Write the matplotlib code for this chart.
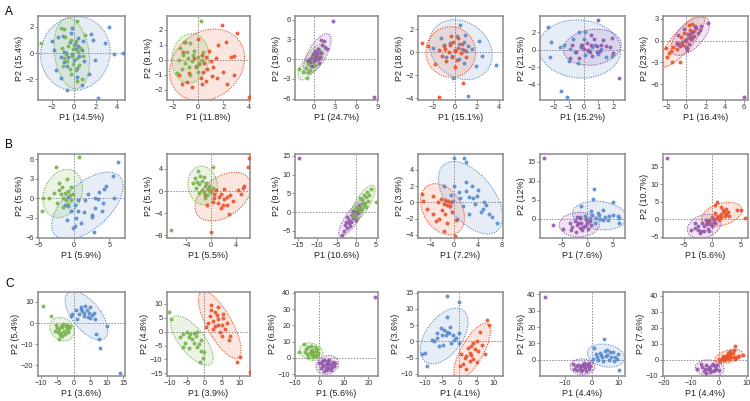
import matplotlib
matplotlib.use("Agg")
import matplotlib.pyplot as plt
from matplotlib.patches import Ellipse
import numpy as np

plt.rcParams['font.family'] = ['Liberation Sans', 'DejaVu Sans']

GREEN = '#78b24c'
BLUE = '#5a8bcc'
RED = '#e8532b'
PURPLE = '#9457ac'

# ---- row A ----
a1_blue = [(3.2, 2.0), (2.9, 0.75), (3.7, -0.1), (4.55, 0.0), (1.9, -0.55), (2.2, -3.4),
           (0.75, -2.45), (0.25, -1.8), (-0.6, -2.8), (1.55, 1.45), (-0.4, 0.8), (0.1, 0.7),
           (0.4, 0.5), (0.7, 0.2), (-0.7, 0.0), (-0.9, 0.1), (-0.5, -0.3), (0.0, -0.5),
           (-0.9, -0.7), (-0.6, -1.0), (0.3, -1.1), (0.5, -0.2), (0.2, 0.3), (-1.0, 1.3),
           (-0.3, 1.5), (0.8, 0.9), (-0.2, -0.1), (0.9, -0.6), (-1.2, -0.3), (0.4, 1.1),
           (-1.5, 1.2), (-1.6, -1.3), (1.4, -1.6), (1.8, 1.0), (-1.8, 0.2), (-0.2, 1.9),
           (-1.2, -1.9), (-2.0, 0.9)]
a1_green = [(-3.0, 0.75), (-1.2, 1.9), (0.25, 2.4), (1.0, 1.4), (-0.8, 1.2), (-0.3, 1.0),
            (0.2, 0.9), (-0.5, 0.5), (-0.1, 0.3), (0.4, 0.1), (-0.7, -0.1), (-0.2, -0.2),
            (0.3, -0.4), (-0.6, -0.6), (-0.1, -0.8), (0.5, -0.9), (-0.4, -1.2), (-0.9, -0.4),
            (0.0, 0.6), (-1.1, 0.4), (0.6, 0.4), (-0.3, -1.6), (0.2, -1.3), (-1.0, -1.0), (0.8, -0.2),
            (0.7, -2.0), (-0.9, 1.8), (0.3, -2.1)]

a2_red = [(1.9, 2.3), (3.1, 1.8), (2.2, 1.2), (2.6, 0.15), (2.8, 0.25), (1.2, -0.5), (1.5, -1.2),
          (1.1, -1.1), (0.3, -1.6), (-0.5, -1.8), (0.5, -0.2), (0.6, 0.2), (0.3, 0.3), (0.1, -0.3),
          (0.7, -0.6), (-0.2, -0.5), (0.4, -0.8), (1.0, -0.1), (-0.3, 0.1), (0.9, 0.6), (4.0, -2.5),
          (0.2, -1.2), (-0.7, -0.9), (1.4, 0.1), (0.6, -1.4), (-1.5, -1.0), (-1.2, 0.5),
          (-0.9, -1.5), (1.6, 1.0), (2.0, -0.8), (-1.0, 1.2), (2.3, -1.6), (2.8, -1.0),
          (-1.3, -1.6), (0.0, 1.4)]
a2_green = [(0.2, 2.6), (-1.1, 1.15), (-0.6, 1.1), (-1.4, 0.8), (-0.9, 0.5), (-0.3, 0.6),
            (-1.7, -0.9), (-1.5, 0.0), (-1.0, -0.2), (-0.5, -0.1), (0.0, 0.2), (0.3, 0.0),
            (-0.2, -0.4), (-0.7, -0.5), (-1.2, 0.3), (0.4, 0.5), (0.0, -0.8), (-1.3, -0.6),
            (-0.4, 0.3), (-0.8, 0.1), (0.1, -0.2), (-0.6, -1.0)]

a3_green = [(-1.0, -2.8), (-2.2, -1.5), (-1.6, -1.9), (-1.2, -1.3), (-0.8, -0.8), (-0.5, 0.0),
            (-0.2, -0.4), (0.2, 0.3), (0.5, 1.5), (0.0, 0.9), (-0.6, -1.6), (0.3, -0.2),
            (-1.0, -0.3), (0.6, 0.6), (0.1, -0.9), (-0.3, 0.5), (0.9, 1.2), (-0.9, -1.9),
            (-0.4, -1.0), (0.8, 0.1)]
a3_purple = [(2.7, 5.8), (8.6, -5.7), (1.0, 2.9), (1.4, 2.7), (1.2, 2.2), (0.6, 1.5), (1.0, 1.0),
             (0.3, 0.5), (-0.2, 0.8), (0.5, 0.0), (0.0, -0.3), (-0.4, 0.2), (0.8, 0.4), (1.5, 1.8),
             (-0.6, -0.5), (0.2, 1.2), (-0.3, -1.0), (1.8, 1.5), (0.1, 0.2), (-0.8, -0.2),
             (0.7, -0.6), (0.4, 0.9)]

a4_blue = [(0.45, 2.4), (2.2, 1.0), (1.9, -1.2), (3.8, -1.1), (1.2, -3.8), (-0.2, -2.2), (0.8, 0.9),
           (0.4, 0.7), (-0.5, 0.8), (-1.0, 0.6), (0.0, 0.2), (0.6, 0.3), (1.0, 0.1), (-0.3, -0.3),
           (0.4, -0.6), (1.2, 0.5), (0.8, -0.9), (-0.8, -0.4), (-2.0, 0.4), (1.6, 0.3), (0.2, 1.4),
           (-1.3, 1.2), (2.5, -0.3), (0.9, 1.5)]
a4_red = [(-3.0, 0.8), (-2.5, 0.5), (-1.5, -3.9), (0.7, -2.7), (-1.0, 0.5), (-0.5, 0.6), (-0.2, 0.9),
          (0.3, 0.4), (0.0, 0.1), (-0.6, 0.0), (-1.2, -0.3), (-0.3, -0.4), (0.5, -0.1), (0.2, -0.7),
          (-0.8, -0.8), (0.6, 0.7), (-1.5, 0.2), (-0.4, 1.4), (1.0, -0.4), (0.0, -1.3), (-0.9, 0.3),
          (0.3, 1.2), (-1.8, -1.0), (0.8, 0.2)]

a5_blue = [(-2.4, 2.6), (-2.2, 0.9), (-2.3, -0.8), (-1.5, -4.8), (-1.1, -5.5), (-1.3, 0.6),
           (-0.6, -0.3), (-0.3, 2.1), (0.1, 2.0), (-0.9, 0.1), (-0.4, -1.5), (0.3, -0.1), (0.6, 0.3),
           (1.0, -0.5), (1.5, -0.8), (1.9, -0.7), (-0.2, 0.5), (-0.7, 1.2), (0.8, 0.5), (0.1, -0.6),
           (-1.0, -1.3), (1.2, 0.1), (0.0, 1.3), (-1.6, 0.3)]
a5_purple = [(1.0, 3.4), (2.4, -3.3), (0.0, 0.1), (0.5, 0.5), (0.9, 0.4), (1.2, 0.5), (1.5, 0.4),
             (0.4, -0.2), (-0.2, 0.3), (0.2, 0.8), (0.7, 1.3), (1.3, 1.1), (-0.5, -0.2), (0.9, -0.3),
             (1.8, 0.3), (-0.3, -1.0), (0.6, -0.7), (1.9, 1.4), (-0.1, 0.6), (0.3, 0.0), (1.1, -0.1),
             (-0.8, 0.6), (0.5, 1.7), (2.0, -0.4), (-0.9, -0.9)]

a6_red = [(-2.1, -1.0), (-2.0, -2.2), (-1.8, -1.7), (-1.5, -3.0), (-0.6, -3.0), (-1.4, -0.9),
          (-1.0, -1.2), (-0.7, -0.5), (-0.3, -0.6), (0.0, 0.0), (0.2, 0.4), (0.5, 1.0), (0.4, 1.5),
          (0.8, 1.3), (0.3, 2.1), (0.6, 2.3), (-0.5, 0.5), (-1.0, -0.3), (0.1, -1.0), (-0.2, 1.0),
          (0.9, 2.0), (-1.6, -1.4), (0.6, 0.3)]
a6_purple = [(6.0, -7.8), (2.3, 2.5), (1.5, 2.0), (1.0, 1.7), (0.6, 1.2), (0.2, 0.9), (0.5, 0.2),
             (-0.1, 0.1), (-0.4, -0.2), (0.0, -0.9), (-0.6, -0.8), (0.8, 0.6), (1.2, 1.1), (-0.8, 0.8),
             (0.3, -0.4), (-0.2, 1.6), (0.9, 1.9), (0.1, -1.3), (-1.0, -0.5), (0.4, 0.7), (1.4, 1.5)]

# ---- row B ----
b1_blue = [(6.2, 5.5), (5.5, 3.4), (4.5, 1.9), (4.2, 1.5), (3.5, 0.9), (3.0, 0.0), (3.4, -0.1),
           (4.1, -0.8), (5.6, 0.0), (4.0, -2.0), (2.6, -2.5), (2.5, -2.9), (1.4, -2.1), (0.5, -2.0),
           (0.3, -3.0), (-1.0, -3.3), (0.1, -4.2), (-0.2, -4.5), (2.8, -5.2), (-0.5, -2.0),
           (-1.3, -1.0), (0.6, -0.3), (1.6, -0.3), (-0.8, -1.2), (0.2, -1.1), (1.9, 0.6),
           (-0.9, 0.2), (1.0, -3.8), (3.0, -1.5)]
b1_green = [(0.7, 6.3), (-2.6, 4.8), (-4.4, 0.1), (-4.6, -2.0), (-3.5, 0.1), (-2.2, 2.4),
            (-1.7, 1.8), (-1.0, 2.9), (-1.9, 0.6), (-1.3, 0.8), (-0.9, 1.1), (-0.6, 0.5),
            (-0.4, -0.3), (-1.1, -0.2), (-2.4, -0.8), (-1.6, -1.4), (-0.8, -0.9), (-2.1, 1.2),
            (-0.2, 0.6), (-1.5, 0.0), (-2.8, 0.8), (-0.5, 1.8)]

b2_red = [(6.0, 6.0), (5.8, 4.3), (5.3, 1.0), (5.0, 0.5), (4.8, -0.5), (4.2, 0.2), (3.0, -0.8),
          (2.5, -1.0), (2.0, -1.5), (1.5, -0.5), (1.2, -1.0), (0.5, -0.5), (0.0, 0.0), (-0.5, 0.3),
          (0.8, 0.2), (1.8, -2.5), (2.5, -2.5), (1.0, -2.2), (0.3, -2.0), (-0.7, -2.5), (2.8, -4.1),
          (1.5, -3.0), (0.0, -7.5), (3.5, -1.8), (-1.0, -0.8), (2.0, 0.3), (0.4, -1.2)]
b2_green = [(0.3, 4.3), (-6.5, -7.0), (-2.2, 3.6), (-1.8, 2.8), (-1.2, 2.6), (-2.6, 2.3),
            (-1.5, 1.8), (-0.8, 1.5), (-2.0, 1.2), (-1.0, 0.9), (-0.5, 0.4), (-1.5, 0.2),
            (-2.5, 0.6), (-3.0, 1.5), (-0.3, 1.0), (-1.9, -0.3), (-0.7, -0.7), (-1.2, -0.1),
            (-2.3, 1.6), (-0.2, -0.2), (0.3, 0.5), (-1.0, -1.2)]

b3_purple = [(-14.8, 14.5), (-3.8, -6.0), (-3.2, -5.0), (-3.0, -3.5), (-2.5, -4.2), (-2.0, -3.0),
             (-1.8, -2.0), (-1.5, -2.5), (-1.0, -1.5), (-1.2, -0.8), (-0.5, -1.0), (-0.3, 0.0),
             (0.0, -0.5), (0.3, 0.5), (-0.8, 0.3), (0.5, -0.3), (-2.3, -1.2), (1.0, 1.0),
             (-1.6, -3.8), (-0.2, -2.2), (0.6, 1.8), (-2.8, -2.5)]
b3_green = [(5.0, 2.8), (3.7, 6.2), (2.8, 5.5), (2.5, 4.0), (2.0, 4.5), (1.5, 3.5), (2.2, 2.5),
            (1.8, 2.0), (1.0, 1.5), (1.3, 2.5), (0.5, 1.0), (0.0, 1.5), (0.8, 0.3), (-0.3, -0.5),
            (-0.5, 0.8), (1.5, 0.8), (2.5, 1.5), (3.0, 3.0), (0.2, -1.5), (-0.8, -1.0), (1.0, 3.8),
            (3.2, 4.6)]

b4_blue = [(0.0, 5.5), (1.6, 5.4), (2.0, 5.0), (-1.8, 2.0), (0.0, 2.0), (0.8, 1.3), (2.0, 1.4),
           (3.0, 2.0), (4.0, 1.5), (3.8, 0.8), (2.5, 0.6), (3.2, 0.5), (5.0, 0.0), (5.3, -0.3),
           (4.8, -0.8), (5.8, -1.5), (6.4, -1.8), (7.2, -2.5), (4.5, -1.2), (1.0, 0.5), (-0.2, 0.2),
           (1.5, -0.5), (2.5, -1.5), (0.5, -2.0), (-0.5, 0.9), (2.0, 2.5), (3.5, -0.2)]
b4_red = [(-5.5, 1.0), (-5.3, 0.2), (-4.6, -0.8), (-3.5, -1.5), (-3.0, -2.3), (-2.8, 0.0),
          (-2.2, 0.4), (-1.8, -0.2), (-1.5, 0.3), (-1.2, -0.3), (-1.0, 0.2), (-0.8, -0.5),
          (-0.5, 0.0), (-2.0, -1.0), (-1.5, -1.5), (-2.5, -2.0), (-1.8, -3.5), (-0.3, -1.2),
          (0.3, -2.2), (0.2, -4.1), (-3.5, 0.8), (-1.2, -2.5)]

b5_blue = [(1.3, 7.8), (1.2, 5.1), (5.0, 4.5), (-1.2, 3.3), (3.0, 2.3), (2.0, 1.5), (1.0, 1.0),
           (0.5, 0.3), (1.8, 0.3), (2.5, 0.0), (3.5, 0.5), (4.2, 0.8), (5.0, 1.0), (6.0, 0.8),
           (6.3, 0.3), (6.2, -1.0), (0.0, -0.5), (-0.5, 0.8), (3.0, -0.3), (1.5, -1.0), (4.0, -0.3),
           (2.3, 1.0), (-1.5, 0.5), (0.8, 2.0)]
b5_purple = [(-8.5, 15.9), (-6.8, -1.5), (-4.8, -2.6), (-3.5, -1.0), (-3.0, -2.0), (-2.5, -0.5),
             (-2.0, -1.5), (-1.5, -2.5), (-1.2, -1.0), (-1.0, -3.0), (-0.5, -1.8), (0.0, -1.0),
             (-0.3, 0.0), (0.5, -0.5), (-2.2, -3.3), (-1.5, 0.2), (-0.8, -2.2), (0.8, -1.5),
             (-3.2, -3.0), (-2.0, 0.5), (0.2, -2.6), (-1.8, -1.2)]

b6_red = [(0.9, 5.0), (0.5, 4.0), (1.5, 3.5), (2.5, 3.0), (4.3, 2.6), (5.0, 2.5), (5.7, 0.2),
          (2.8, 2.2), (2.0, 2.0), (1.5, 1.5), (1.0, 1.0), (0.8, 0.3), (1.6, 0.5), (2.2, 0.8),
          (2.5, 1.5), (0.0, 0.5), (-0.5, -0.2), (0.3, -0.8), (1.2, -0.3), (3.0, 0.8), (-1.0, -1.0),
          (1.8, 2.6), (0.4, 1.8)]
b6_purple = [(-8.0, 17.5), (-3.8, -3.0), (-3.0, -2.5), (-2.5, -2.0), (-2.0, -3.5), (-1.8, -1.0),
             (-1.5, -2.0), (-1.0, -1.5), (-0.8, -2.8), (-0.5, -0.5), (-0.2, -1.3), (0.0, -2.0),
             (-1.2, -0.2), (0.3, 0.0), (-2.2, -4.0), (-1.5, -3.5), (0.5, -1.0), (-3.0, -1.2),
             (-0.6, -3.5), (-2.5, -3.0)]

# ---- row C ----
c1_blue = [(14.0, -23.5), (7.8, -12.0), (7.5, -7.5), (6.8, -5.3), (10.0, -1.5), (2.0, 7.5),
           (3.5, 8.0), (5.0, 7.5), (4.0, 6.2), (2.5, 5.5), (1.5, 4.5), (3.0, 5.0), (4.5, 5.0),
           (5.5, 4.0), (6.0, 5.0), (0.5, 6.0), (-1.0, 3.5), (-0.5, 4.5), (1.0, 2.0), (3.0, 3.5),
           (5.0, 2.5), (2.0, 6.5), (4.2, 3.0), (6.5, 2.0)]
c1_green = [(-9.5, 8.0), (-7.0, 3.3), (-4.5, -7.5), (-5.5, -1.0), (-5.0, -2.5), (-4.5, -3.0),
            (-4.0, -1.5), (-3.5, -2.0), (-3.0, -3.5), (-2.5, -1.5), (-2.0, -1.0), (-1.5, -2.5),
            (-3.8, -4.5), (-2.8, -5.0), (-4.2, -5.5), (-1.8, -4.0), (-5.8, -3.5), (-3.2, -0.5),
            (-2.2, -2.8), (-4.8, -4.0), (-1.2, -1.5), (-3.5, -6.0)]

c2_red = [(2.0, 9.5), (4.0, 9.0), (3.0, 7.0), (5.5, 5.0), (1.0, 3.0), (2.5, 4.0), (4.0, 4.5),
          (3.0, 2.0), (6.0, 1.0), (4.5, 0.0), (5.0, -1.5), (7.5, -1.5), (9.5, -11.0), (10.2, -9.0),
          (13.0, -14.6), (3.5, 6.0), (1.5, 5.5), (2.5, 1.0), (6.5, 3.0), (5.0, 2.5), (0.5, 1.5),
          (7.0, -3.0), (4.0, 2.5), (2.0, 7.8), (5.5, 6.5)]
c2_green = [(-10.0, 7.0), (-9.5, 4.5), (-5.0, -0.3), (-4.0, -1.0), (-3.0, -0.5), (-2.0, 0.0),
            (-4.5, -2.0), (-3.5, -2.5), (-2.5, -1.5), (-5.5, -4.0), (-6.0, -5.5), (-4.5, -6.0),
            (-3.0, -4.0), (-1.0, -3.0), (-1.5, -4.5), (-1.0, -7.0), (-0.5, -9.5), (-1.3, -11.0),
            (0.0, -7.5), (-7.0, -2.0), (-6.0, -1.0), (-2.0, -5.5)]

c3_green = [(-8.5, 3.5), (-6.5, 8.5), (-5.5, 5.5), (-4.5, 6.5), (-3.5, 7.5), (-3.0, 5.0),
            (-4.0, 3.0), (-2.5, 3.5), (-2.0, 2.0), (-1.5, 4.0), (-3.0, 1.5), (-5.0, 2.5),
            (-1.0, 1.0), (-2.0, 6.5), (-4.5, 0.5), (-3.5, 4.0), (-6.0, 3.5), (-0.5, 3.0),
            (-2.5, 0.5), (-1.2, 5.5)]
c3_purple = [(22.5, 37.5), (0.0, -3.0), (1.0, -2.0), (2.0, -1.5), (3.0, -2.0), (4.0, -1.5),
             (5.5, -2.5), (6.5, -3.0), (2.5, -4.0), (3.5, -4.5), (4.5, -4.0), (1.5, -5.0),
             (2.5, -6.0), (3.0, -7.5), (4.0, -6.5), (5.0, -5.5), (6.0, -5.0), (1.0, -4.0),
             (3.5, -3.0), (2.0, -8.0), (4.8, -7.5), (0.5, -6.0)]

c4_blue = [(-3.5, 14.0), (0.0, 12.0), (-3.5, 7.5), (-5.5, 4.0), (-4.5, 3.5), (-3.5, 3.0),
           (-5.0, 2.0), (-4.0, 1.8), (-3.0, 2.5), (-6.5, 1.0), (-7.5, 0.0), (-6.0, -1.5),
           (-8.0, 0.5), (-10.0, -3.5), (-11.0, -4.0), (-9.5, -7.5), (-2.0, 2.0), (-1.0, 1.0),
           (0.0, 2.5), (0.0, -0.5), (-1.5, 0.3), (-4.8, -1.0), (-2.5, -0.5), (-6.5, 2.5),
           (-2.8, 4.5)]
c4_red = [(8.0, 6.5), (8.5, 5.0), (6.0, 3.0), (5.0, 0.0), (4.0, -0.5), (3.5, -1.5), (2.5, -2.0),
          (4.5, -2.5), (5.5, -3.0), (3.0, -3.5), (2.0, -4.5), (1.5, -5.0), (3.0, -6.0), (4.0, -5.5),
          (0.5, -4.0), (1.0, -7.0), (2.0, -8.5), (7.5, -3.8), (6.5, -1.0), (0.2, -7.5),
          (3.5, -4.2), (5.0, -6.5)]

c5_blue = [(4.8, 13.0), (10.5, -6.5), (10.0, 3.5), (9.0, 2.0), (8.0, 5.0), (7.0, 4.5), (6.0, 6.0),
           (5.0, 5.5), (3.0, 4.0), (2.0, 2.0), (1.0, 7.0), (0.5, 0.5), (2.5, 0.0), (4.0, 1.5),
           (5.5, 2.5), (6.5, 0.0), (8.5, -1.0), (3.5, 3.0), (1.5, 3.5), (6.0, 3.0), (7.5, 1.5),
           (4.5, -0.5), (9.5, 0.5)]
c5_purple = [(-17.5, 38.5), (-7.0, -2.5), (-6.0, -4.0), (-5.0, -3.0), (-4.5, -5.0), (-4.0, -3.5),
             (-3.5, -6.0), (-3.0, -4.0), (-2.5, -5.0), (-2.0, -2.5), (-1.5, -3.5), (-1.0, -5.5),
             (-0.5, -4.0), (-3.0, -2.0), (-5.5, -6.0), (-2.0, -7.0), (-4.0, -7.0), (-1.0, -2.0),
             (-6.5, -5.5), (-3.5, -3.0)]

c6_red = [(6.0, 8.5), (5.5, 6.0), (8.8, 2.8), (7.5, 2.5), (5.0, 4.0), (4.0, 3.5), (3.5, 2.5),
          (3.0, 3.0), (2.5, 1.5), (2.0, 2.0), (1.5, 1.0), (1.0, 0.5), (0.5, -0.5), (0.0, 0.5),
          (4.5, 1.5), (3.8, 0.8), (2.8, 0.5), (5.5, 2.0), (6.5, 2.0), (3.2, 4.5), (2.0, 0.0),
          (4.2, 5.2), (1.5, 2.5), (6.0, 0.5), (4.0, 2.0)]
c6_purple = [(-19.0, 43.5), (-8.0, -5.5), (-6.5, -2.5), (-6.0, -4.5), (-5.0, -5.5), (-4.5, -3.5),
             (-4.0, -6.0), (-3.5, -4.5), (-3.0, -5.5), (-2.5, -3.0), (-2.0, -7.0), (-1.5, -4.0),
             (-1.0, -5.5), (-0.5, -3.5), (0.0, -6.5), (-3.0, -7.5), (-4.5, -8.0), (-2.0, -2.5),
             (-5.5, -7.0), (-1.5, -6.5)]

# axis labels
x_labels = ['P1 (14.5%)', 'P1 (11.8%)', 'P1 (24.7%)', 'P1 (15.1%)', 'P1 (15.2%)', 'P1 (16.4%)',
            'P1 (5.9%)', 'P1 (5.5%)', 'P1 (10.6%)', 'P1 (7.2%)', 'P1 (7.6%)', 'P1 (5.6%)',
            'P1 (3.6%)', 'P1 (3.9%)', 'P1 (5.6%)', 'P1 (4.1%)', 'P1 (4.4%)', 'P1 (4.4%)']
y_labels = ['P2 (15.4%)', 'P2 (9.1%)', 'P2 (19.8%)', 'P2 (18.6%)', 'P2 (21.5%)', 'P2 (23.3%)',
            'P2 (5.6%)', 'P2 (5.1%)', 'P2 (9.1%)', 'P2 (3.9%)', 'P2 (12%)', 'P2 (10.7%)',
            'P2 (5.4%)', 'P2 (4.8%)', 'P2 (6.8%)', 'P2 (3.6%)', 'P2 (7.5%)', 'P2 (7.6%)']

panels = [
    # groups, xlim, ylim, xticks, yticks
    ([(a1_blue, BLUE), (a1_green, GREEN)], (-3.3, 4.7), (-3.55, 2.8), [-2, 0, 2, 4], [-2, 0, 2]),
    ([(a2_red, RED), (a2_green, GREEN)], (-2.45, 4.1), (-2.7, 2.92), [-2, 0, 2, 4], [-2, -1, 0, 1, 2]),
    ([(a3_green, GREEN), (a3_purple, PURPLE)], (-2.7, 9.1), (-6.2, 6.55), [0, 3, 6, 9], [-6, -3, 0, 3, 6]),
    ([(a4_blue, BLUE), (a4_red, RED)], (-3.4, 4.4), (-4.15, 3.15), [-2, 0, 2, 4], [-4, -2, 0, 2]),
    ([(a5_blue, BLUE), (a5_purple, PURPLE)], (-2.95, 2.8), (-5.8, 3.9), [-2, -1, 0, 1, 2], [-4, -2, 0, 2]),
    ([(a6_red, RED), (a6_purple, PURPLE)], (-2.4, 6.4), (-8.2, 3.4), [-2, 0, 2, 4, 6], [-6, -3, 0, 3]),
    ([(b1_blue, BLUE), (b1_green, GREEN)], (-5.1, 7.2), (-6.1, 6.8), [-5, 0, 5], [-6, -3, 0, 3, 6]),
    ([(b2_red, RED), (b2_green, GREEN)], (-7.1, 6.2), (-8.5, 6.7), [-4, 0, 4], [-8, -4, 0, 4]),
    ([(b3_purple, PURPLE), (b3_green, GREEN)], (-15.7, 5.5), (-6.9, 15.5), [-15, -10, -5, 0, 5], [-5, 0, 5, 10, 15]),
    ([(b4_blue, BLUE), (b4_red, RED)], (-6.1, 8.2), (-4.4, 5.95), [-4, 0, 4, 8], [-4, -2, 0, 2, 4]),
    ([(b5_blue, BLUE), (b5_purple, PURPLE)], (-9.3, 7.4), (-5.0, 17.0), [-5, 0, 5], [0, 5, 10, 15]),
    ([(b6_red, RED), (b6_purple, PURPLE)], (-8.7, 6.3), (-5.4, 18.7), [-5, 0, 5], [-5, 0, 5, 10, 15]),
    ([(c1_blue, BLUE), (c1_green, GREEN)], (-10.9, 15.5), (-25.0, 14.7), [-10, -5, 0, 5, 10, 15], [-20, -10, 0, 10]),
    ([(c2_red, RED), (c2_green, GREEN)], (-10.7, 13.1), (-16.0, 14.3), [-10, -5, 0, 5, 10], [-15, -10, -5, 0, 5, 10]),
    ([(c3_green, GREEN), (c3_purple, PURPLE)], (-9.9, 23.9), (-11.2, 40.6), [-10, 0, 10, 20], [-10, 0, 10, 20, 30, 40]),
    ([(c4_blue, BLUE), (c4_red, RED)], (-12.1, 12.7), (-10.7, 15.2), [-10, -5, 0, 5, 10], [-10, -5, 0, 5, 10, 15]),
    ([(c5_blue, BLUE), (c5_purple, PURPLE)], (-19.4, 12.6), (-9.9, 41.4), [-10, 0, 10], [0, 10, 20, 30, 40]),
    ([(c6_red, RED), (c6_purple, PURPLE)], (-20.2, 10.6), (-10.1, 42.3), [-20, -10, 0, 10], [-10, 0, 10, 20, 30, 40]),
]

# axes boxes in pixels: left, width for each column; top, height for each row
col_left = [38, 167, 295, 418, 540, 663]
col_width = [87, 83, 83, 85, 85, 85]
row_top = [16, 154, 292]
row_height = [84, 84, 84]
W, H = 750, 401


def cov_trob(pts, nu=5, tol=1e-4, max_iter=100):
    # robust multivariate t estimate (like MASS::cov.trob)
    x = np.asarray(pts, dtype=float)
    n, p = x.shape
    w = np.ones(n)
    loc = x.mean(axis=0)
    for _ in range(max_iter):
        w0 = w
        xc = x - loc
        S = (w[:, None] * xc).T @ xc / w.sum()
        Q = np.einsum('ij,jk,ik->i', xc, np.linalg.inv(S), xc)
        w = (nu + p) / (nu + Q)
        loc = (w[:, None] * x).sum(axis=0) / w.sum()
        if np.all(np.abs(w - w0) < tol):
            break
    xc = x - loc
    cov = (w[:, None] * xc).T @ xc / n
    return loc, cov


def add_ellipse(ax, pts, color, level=0.95):
    loc, cov = cov_trob(pts)
    n = len(pts)
    d = n - 1
    # F quantile with dfn = 2 has a closed form
    qf = d / 2 * ((1 - level) ** (-2 / d) - 1)
    r = np.sqrt(2 * qf)
    vals, vecs = np.linalg.eigh(cov)
    angle = np.degrees(np.arctan2(vecs[1, 1], vecs[0, 1]))
    w, h = 2 * r * np.sqrt(vals[1]), 2 * r * np.sqrt(vals[0])
    ax.add_patch(Ellipse(loc, w, h, angle=angle, facecolor=color, alpha=0.15,
                         edgecolor='none', zorder=1))
    ax.add_patch(Ellipse(loc, w, h, angle=angle, facecolor='none', edgecolor=color,
                         linestyle=(0, (1, 1.2)), linewidth=0.8, zorder=2))


fig = plt.figure(figsize=(7.5, 4.01), dpi=100)

for i, (groups, xlim, ylim, xticks, yticks) in enumerate(panels):
    r, c = divmod(i, 6)
    ax = fig.add_axes([col_left[c] / W, 1 - (row_top[r] + row_height[r]) / H,
                       col_width[c] / W, row_height[r] / H])
    ax.axhline(0, color='#8c8c8c', lw=0.7, ls=(0, (1.5, 1.5)), zorder=0)
    ax.axvline(0, color='#8c8c8c', lw=0.7, ls=(0, (1.5, 1.5)), zorder=0)
    for pts, color in groups:
        add_ellipse(ax, pts, color)
    for pts, color in groups:
        arr = np.asarray(pts)
        ax.scatter(arr[:, 0], arr[:, 1], s=8, color=color, alpha=0.9,
                   linewidths=0, zorder=3)
    ax.set_xlim(*xlim)
    ax.set_ylim(*ylim)
    ax.set_xticks(xticks)
    ax.set_yticks(yticks)
    ax.set_xlabel(x_labels[i], fontsize=6.5, color='#222222', labelpad=1)
    ax.set_ylabel(y_labels[i], fontsize=6.5, color='#222222', labelpad=1)
    ax.tick_params(labelsize=5.3, length=2, width=0.6, color='#808080',
                   labelcolor='#333333', pad=1.2)
    for sp in ax.spines.values():
        sp.set_color('#8a8a8a')
        sp.set_linewidth(1.1)

for letter, ypix in zip(['A', 'B', 'C'], [12, 145, 284]):
    fig.text(5 / W, 1 - ypix / H, letter, fontsize=8.5, va='center', ha='left')

fig.savefig('out.png', dpi=100)
